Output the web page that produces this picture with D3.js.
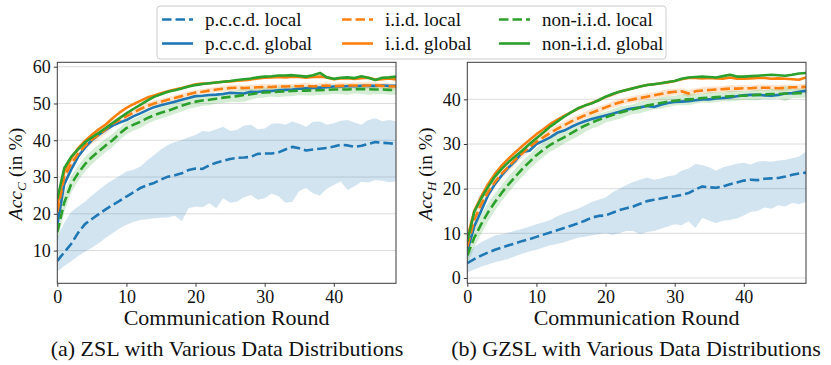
<!DOCTYPE html>
<html><head><meta charset="utf-8">
<script src="https://cdn.jsdelivr.net/npm/d3@7"></script>
<style>body{margin:0;background:#fff}svg{display:block}</style>
</head><body>
<svg id="c" width="831" height="365"></svg>
<script>
const rounds = d3.range(0, 50);
const xTicks = [0, 10, 20, 30, 40];
const yTicksZ = [10, 20, 30, 40, 50, 60];
const yTicksH = [0, 10, 20, 30, 40];
const legendLabels = ["p.c.c.d. local","i.i.d. local","non-i.i.d. local","p.c.c.d. global","i.i.d. global","non-i.i.d. global"];
const captions = ["(a) ZSL with Various Data Distributions","(b) GZSL with Various Data Distributions"];

// ---- ZSL (Acc_C) ----
const pccdLocalZ = [7.2,9.5,11.8,14.8,17.2,18.6,19.9,21.2,22.4,23.5,24.7,25.8,27.0,27.8,28.4,29.3,30.1,30.5,31.0,31.9,32.3,32.2,33.2,33.9,34.4,34.9,35.2,35.3,35.5,36.3,36.4,36.4,36.7,37.5,38.2,37.8,37.2,37.5,37.7,37.9,38.3,38.8,38.6,38.2,38.5,39.0,39.5,39.3,39.2,39.0];
const pccdLocalZHi = [13.5,17.5,20.5,22,23.3,25,26.5,28,29.2,30.3,31.5,32,32.8,34.5,36,37.5,38.7,39.5,40.1,40.8,41.4,42.5,42.3,43,43.7,42.5,42.8,44,44.2,43,43.2,44.5,44.6,44.2,45.1,44.5,43.7,45,45.1,44.2,44.6,45.3,45.5,44.8,44.2,45.5,46,45.2,45.5,45.2];
const pccdLocalZLo = [4.3,5.8,7,8.5,9.7,10.8,12,13.5,14.7,16,17,17.8,18.3,18.5,18.8,18.9,19,19.5,18,21.5,22,21.8,22.9,21.5,24.2,23,23.3,24.5,25.1,23.8,24.2,25.5,24.8,23,23.3,26.2,27,25.5,25,26.8,27.8,28.8,26.5,27.5,28.7,28.5,29.2,29,28.6,28.8];
const pccdGlobalZ = [17,28,32,35.5,38,40,41.5,42.8,44,44.8,45.5,46.5,47.3,48.2,49,49.5,50,50.5,51,51.5,52,52.1,52.3,52.4,52.6,52.9,52.8,52.7,53.2,53.1,53.4,53.4,53.6,53.7,53.8,54,54.1,54.2,54.3,54.4,54.6,54.6,54.7,54.7,54.8,54.8,54.8,54.9,54.8,54.8];
const iidLocalZ = [20.5,30,33.5,36.3,38.5,40.2,41.5,43,44.5,45.5,46.5,47.5,48.5,49.3,50,50.5,51,51.5,52,52.5,53,53.2,53.5,53.8,54,54.2,54.3,54.2,54.3,54.4,54.5,54.5,54.6,54.6,54.7,54.7,54.8,54.6,54.8,54.9,54.7,54.8,54.9,54.9,54.8,54.9,55,54.8,54.7,54.6];
const iidLocalZStd = [2.0,1.5,1.3,1.2,1.1,1.2,1.3,1.2,1.0,0.9,0.9,0.9,0.8,0.9,0.8,0.8,0.7,0.8,0.7,0.8,0.7,0.7,0.8,0.7,0.8,0.9,0.8,0.7,0.8,0.8,0.7,0.8,0.7,0.8,0.7,0.8,0.9,0.8,0.7,0.8,0.8,0.9,0.7,0.8,1.0,0.9,0.8,0.8,0.9,0.8];
const iidGlobalZ = [22,31.5,35,37.8,39.8,41.5,43,44.3,46,47.5,48.8,49.8,50.7,51.6,52.2,52.8,53.3,53.8,54.2,54.7,55.2,55.4,55.5,55.7,55.9,56,56.2,56.3,56.5,56.8,57,57.1,57.2,57.1,57.3,57.2,57,57.2,57.3,57.1,56.6,56.8,56.9,56.7,56.9,57,56.5,56.6,56.8,56.5];
const nonIidLocalZ = [15,23,28,31,33.5,35.4,37,38.6,40,41.8,43.3,44.2,45,46,46.8,47.5,48,48.7,49.4,50,50.5,50.8,51,51.3,51.6,51.8,52,52.3,52.5,52.8,53,53.1,53.2,53.3,53.4,53.5,53.5,53.6,53.6,53.7,53.8,53.8,53.8,53.9,53.9,53.9,53.8,53.8,53.7,53.6];
const nonIidLocalZStd = [3.0,2.6,2.3,2.1,2.0,1.9,1.9,1.8,1.8,1.7,1.7,1.6,1.7,1.6,1.5,1.6,1.5,1.5,1.6,1.4,1.5,1.4,1.5,1.3,1.5,1.4,1.6,1.8,1.5,1.3,1.4,1.2,1.5,1.3,1.4,1.2,1.3,1.4,1.2,1.3,1.2,1.3,1.4,1.2,1.3,1.5,1.3,1.2,1.3,1.2];
const nonIidGlobalZ = [24,32.4,35.5,37.5,39.4,40.8,42,43.3,44.7,46,47.3,48.5,49.6,50.8,51.8,52.5,53.2,53.6,54.1,54.6,55,55.3,55.5,55.7,55.9,56.1,56.4,56.6,56.8,57.1,57.3,57.4,57.6,57.6,57.7,57.5,57.3,57.7,58.3,57.1,56.7,57,57.1,56.9,57.4,57,56.4,57,57.1,57.3];

// ---- GZSL (Acc_H) ----
const pccdLocalH = [3.3,4.2,5,5.7,6.3,6.8,7.3,7.8,8.3,8.7,9.2,9.7,10.2,10.7,11.2,11.7,12.2,12.8,13.5,13.9,14,14.6,15.2,15.6,16,16.6,17.2,17.5,17.8,18.1,18.3,18.6,19,19.8,20.5,20.3,20.2,20.5,21,21.4,21.8,22,21.9,22.2,22.3,22.4,22.7,23.1,23.4,23.6];
const pccdLocalHHi = [5,7,8,8.8,9.5,9.8,10.2,10.6,11,11.5,12,12.5,13,13.8,14.5,15,15.5,16.2,17,17.5,18,19.2,20,20.8,21.5,22,22.5,22,22.3,22.8,23,24,24.5,25.5,25.3,24.8,24,24.8,25.2,25.6,25.8,25.4,26,26.2,26,26.3,26.5,26.8,27.2,28.3];
const pccdLocalHLo = [1.2,1.9,2.5,3,3.5,3.9,4.3,4.9,5.5,5.9,6.3,6.8,7.3,7.6,8,8.5,9,9.2,9.5,9.8,10,9.6,10,10.5,10.5,9.8,10.3,10.5,11,11.5,12,11.8,12.7,11.2,13.5,12.8,12.3,12.8,13,13.3,14,14.8,15,15.8,15.5,16.3,16,16.8,16.5,17];
const pccdGlobalH = [6,11.5,15,18.5,21,23,24.8,26.3,28.2,28.5,30,30.7,31.5,32.5,33,33.8,34.5,35.1,35.6,36,36.4,36.8,37.2,37.7,38,38.2,38.5,38.3,38.8,39.2,39.4,39.5,39.6,39.8,40,40,40.2,40.3,40.4,40.7,40.9,41,41,40.9,40.8,41,41.3,41.4,41.7,41.9];
const iidLocalH = [7,13,16.5,19.2,21.5,23.4,25,26.6,28,29.3,30.5,31.5,32.5,33.4,34.2,35,35.7,36.4,37,37.6,38.2,38.8,39.3,39.7,40,40.3,40.6,40.9,41.2,41.5,41.7,41.8,41.3,41.8,42,42.1,42.2,42.3,42.4,42.4,42.5,42.5,42.6,42.6,42.6,42.5,42.6,42.7,42.7,42.8];
const iidLocalHStd = [1.5,1.3,1.2,1.1,1.0,1.0,1.1,1.0,0.9,0.9,0.9,1.0,0.9,0.8,0.9,0.9,0.8,0.8,0.9,0.8,0.7,0.8,0.8,0.7,0.8,0.7,0.8,0.7,0.7,0.8,0.7,0.7,0.8,0.7,0.7,0.8,0.7,0.7,0.8,0.7,0.7,0.6,0.7,0.7,0.6,0.7,0.7,0.6,0.7,0.7];
const iidGlobalH = [9,15,18.2,21,23.3,25.2,26.8,28.2,29.6,30.9,32.2,33.3,34.5,35.4,36.3,37.1,37.9,38.6,39.2,39.8,40.5,41.1,41.7,42.1,42.5,42.9,43.2,43.4,43.6,43.8,44.1,44.5,44.8,44.8,44.7,44.8,44.7,44.6,44.9,44.6,44.6,44.7,44.8,44.8,44.6,44.7,44.6,44.5,44.4,44.9];
const nonIidLocalH = [5,9,12,14.7,17,19.1,21,22.8,24.5,26,27.5,28.7,29.8,30.7,31.5,32.4,33.3,34.1,34.8,35.4,36,36.5,37,37.4,37.8,38.2,38.6,38.9,39.2,39.5,39.7,39.9,40,40.1,40.3,40.4,40.5,40.6,40.7,40.8,40.8,40.9,41,41.1,41.2,41.2,41.3,41.3,41.4,41.4];
const nonIidLocalHStd = [2.0,2.2,2.2,2.0,1.9,1.8,1.8,1.7,1.8,1.6,1.7,1.6,1.5,1.6,1.4,1.5,1.6,1.4,1.3,1.4,1.2,1.3,1.4,1.2,1.1,1.3,1.2,1.1,1.3,1.2,1.1,1.2,1.3,1.1,1.0,1.2,1.1,1.0,1.2,1.1,1.0,1.1,1.2,1.0,1.1,1.0,1.7,1.0,1.1,1.0];
const nonIidGlobalH = [8.1,14.8,17.8,20.4,22.7,24.5,26,27.3,28.6,30,31.3,32.6,33.9,35,36.1,37.1,38,38.6,39.1,39.8,40.6,41.2,41.7,42.1,42.5,42.9,43.2,43.4,43.6,43.9,44.1,44.6,44.9,45,45.1,45,44.9,45.2,45.5,45.1,45.1,45.2,45.3,45.4,45.5,45.4,45.3,45.5,45.8,45.9];

const BLUE = "#1f77b4", ORANGE = "#ff7f0e", GREEN = "#2ca02c";
const FONT = "'Liberation Serif', serif";

const svg = d3.select("#c");

function panel(cfg) {
  const x = d3.scaleLinear().domain([0, 49]).range([cfg.x0, cfg.x1]);
  const y = d3.scaleLinear().domain(cfg.yDomain).range([283.3, 62.3]);
  const g = svg.append("g");
  const cid = "clip" + cfg.id;
  svg.append("clipPath").attr("id", cid).append("rect")
    .attr("x", cfg.x0).attr("y", 62.3).attr("width", cfg.x1 - cfg.x0).attr("height", 283.3 - 62.3);
  g.append("g").selectAll("line").data(cfg.yTicks).join("line")
    .attr("x1", cfg.x0).attr("x2", cfg.x1)
    .attr("y1", d => y(d)).attr("y2", d => y(d))
    .attr("stroke", "#dcdcdc").attr("stroke-width", 1);
  const plot = g.append("g").attr("clip-path", `url(#${cid})`);
  const area = d3.area().x((d, i) => x(rounds[i])).y0(d => y(d[0])).y1(d => y(d[1]));
  const line = d3.line().x((d, i) => x(rounds[i])).y(d => y(d));
  plot.append("path").datum(cfg.pLo.map((v, i) => [v, cfg.pHi[i]]))
    .attr("d", area).attr("fill", BLUE).attr("fill-opacity", 0.2);
  plot.append("path").datum(cfg.iL.map((v, i) => [v - cfg.iS[i], v + cfg.iS[i]]))
    .attr("d", area).attr("fill", ORANGE).attr("fill-opacity", 0.2);
  plot.append("path").datum(cfg.nL.map((v, i) => [v - cfg.nS[i], v + cfg.nS[i]]))
    .attr("d", area).attr("fill", GREEN).attr("fill-opacity", 0.2);
  const series = [
    [cfg.pL, BLUE, true], [cfg.pG, BLUE, false],
    [cfg.iL, ORANGE, true], [cfg.iG, ORANGE, false],
    [cfg.nL, GREEN, true], [cfg.nG, GREEN, false]
  ];
  series.forEach(([d, c, dash]) => {
    plot.append("path").datum(d).attr("d", line).attr("fill", "none")
      .attr("stroke", c).attr("stroke-width", 2.6)
      .attr("stroke-dasharray", dash ? "9.5,4" : null)
      .attr("stroke-linejoin", "round");
  });
  g.append("rect").attr("x", cfg.x0).attr("y", 62.3).attr("width", cfg.x1 - cfg.x0).attr("height", 283.3 - 62.3)
    .attr("fill", "none").attr("stroke", "#3a3a3a").attr("stroke-width", 1);
  const xa = g.append("g").attr("transform", "translate(0,283.3)")
    .call(d3.axisBottom(x).tickValues(xTicks).tickSize(3.5).tickPadding(3));
  const ya = g.append("g").attr("transform", `translate(${cfg.x0},0)`)
    .call(d3.axisLeft(y).tickValues(cfg.yTicks).tickSize(3.5).tickPadding(3));
  [xa, ya].forEach(a => {
    a.select(".domain").remove();
    a.selectAll(".tick line").attr("stroke", "#3a3a3a");
    a.selectAll("text").attr("font-family", FONT).attr("font-size", 18).attr("fill", "#111");
  });
  g.append("text").attr("x", (cfg.x0 + cfg.x1) / 2).attr("y", 325)
    .attr("text-anchor", "middle").attr("font-family", FONT).attr("font-size", 22)
    .attr("fill", "#111").text("Communication Round");
  const yl = g.append("text").attr("transform", `translate(${cfg.ylx},174) rotate(-90)`)
    .attr("text-anchor", "middle").attr("font-family", FONT).attr("font-size", 19.5).attr("fill", "#111");
  yl.append("tspan").attr("font-style", "italic").text("Acc");
  yl.append("tspan").attr("font-style", "italic").attr("font-size", 13.5).attr("dy", 4).text(cfg.sub);
  yl.append("tspan").attr("dy", -4).text(" (in %)");
  svg.append("text").attr("x", cfg.capX).attr("y", 356)
    .attr("text-anchor", "middle").attr("font-family", FONT).attr("font-size", 22)
    .attr("fill", "#111").text(cfg.caption);
}

panel({id: "a", x0: 57.3, x1: 396, yDomain: [1.1, 61.2], yTicks: yTicksZ, ylx: 22, sub: "C",
  pL: pccdLocalZ, pLo: pccdLocalZLo, pHi: pccdLocalZHi, pG: pccdGlobalZ,
  iL: iidLocalZ, iS: iidLocalZStd, iG: iidGlobalZ,
  nL: nonIidLocalZ, nS: nonIidLocalZStd, nG: nonIidGlobalZ, caption: captions[0], capX: 227});
panel({id: "b", x0: 467.3, x1: 806, yDomain: [-1.2, 48.3], yTicks: yTicksH, ylx: 432, sub: "H",
  pL: pccdLocalH, pLo: pccdLocalHLo, pHi: pccdLocalHHi, pG: pccdGlobalH,
  iL: iidLocalH, iS: iidLocalHStd, iG: iidGlobalH,
  nL: nonIidLocalH, nS: nonIidLocalHStd, nG: nonIidGlobalH, caption: captions[1], capX: 636});

const lg = svg.append("g");
lg.append("rect").attr("x", 157).attr("y", 6).attr("width", 509).attr("height", 53).attr("rx", 3)
  .attr("fill", "#fff").attr("fill-opacity", 0.85).attr("stroke", "#cccccc").attr("stroke-width", 1);
const legendColors = [BLUE, ORANGE, GREEN, BLUE, ORANGE, GREEN];
const colX = [162, 342, 499];
const rowY = [19.5, 43.5];
legendLabels.forEach((lab, i) => {
  const c = i % 3, r = Math.floor(i / 3);
  lg.append("line").attr("x1", colX[c]).attr("x2", colX[c] + 31).attr("y1", rowY[r]).attr("y2", rowY[r])
    .attr("stroke", legendColors[i]).attr("stroke-width", 2.6)
    .attr("stroke-dasharray", r === 0 ? "9.5,4" : null);
  lg.append("text").attr("x", colX[c] + 43).attr("y", rowY[r] + 6)
    .attr("font-family", FONT).attr("font-size", 19).attr("fill", "#111").text(lab);
});
</script>
</body></html>
